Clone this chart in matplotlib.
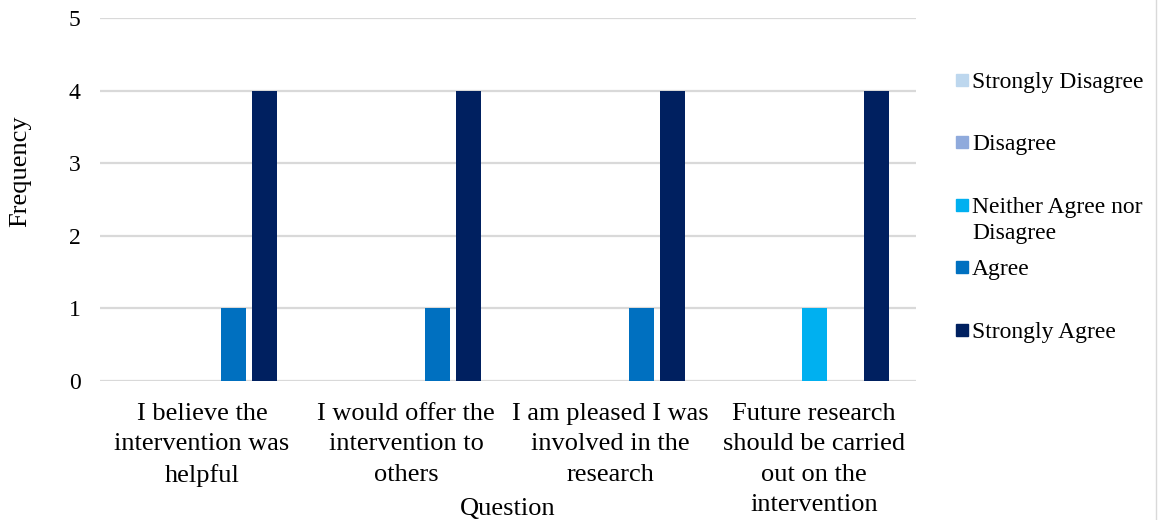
import matplotlib.pyplot as plt
from matplotlib.patches import Rectangle
import numpy as np

plt.rcParams['font.family'] = ['Liberation Serif', 'DejaVu Serif']

questions = ['I believe the\nintervention was\nhelpful',
             'I would offer the\nintervention to\nothers',
             'I am pleased I was\ninvolved in the\nresearch',
             'Future research\nshould be carried\nout on the\nintervention']
responses = ['Strongly Disagree', 'Disagree', 'Neither Agree nor\nDisagree',
             'Agree', 'Strongly Agree']
strongly_disagree = [0, 0, 0, 0]
disagree = [0, 0, 0, 0]
neither = [0, 0, 0, 1]
agree = [1, 1, 1, 0]
strongly_agree = [4, 4, 4, 4]
colors = ['#BDD7EE', '#8FAADC', '#00B0F0', '#0070C0', '#002060']

series = [strongly_disagree, disagree, neither, agree, strongly_agree]

fig = plt.figure(figsize=(11.58, 5.2), dpi=100)
ax = fig.add_axes([0.0864, 0.2673, 0.7047, 0.6981])

x = np.arange(len(questions))
step = 0.152
width = 0.122
for i, vals in enumerate(series):
    ax.bar(x + (i - 2) * step, vals, width, color=colors[i], zorder=3)

ax.set_xlim(-0.5, len(questions) - 0.5)
ax.set_ylim(0, 5)
ax.set_yticks(range(6))
ax.yaxis.grid(True, color='#d9d9d9', linewidth=1.6, zorder=0)
for s in ax.spines.values():
    s.set_visible(False)
ax.tick_params(axis='both', length=0)
ax.tick_params(axis='y', labelsize=17, pad=14)
ax.set_xticks(x)
ax.set_xticklabels(questions, fontsize=19, linespacing=1.48)
ax.tick_params(axis='x', pad=16)

fig.text(508 / 1158, 1 - 509 / 520, 'Question', fontsize=19, ha='center', va='center')
fig.text(20 / 1158, 1 - 171 / 520, 'Frequency', fontsize=19, ha='center', va='center',
         rotation=90)

# legend drawn by hand so the wrapped entry keeps its square on the first line
leg_y = [80, 142, 205, 267, 330]
for name, c, yp in zip(responses, colors, leg_y):
    fy = 1 - yp / 520
    fig.patches.append(Rectangle((956 / 1158, fy - 6 / 520), 12 / 1158, 12 / 520,
                                 transform=fig.transFigure, color=c))
    fig.text(972 / 1158, fy + 8 / 520, name, fontsize=17, ha='left', va='top',
             linespacing=1.3)

fig.add_artist(plt.Line2D([1156 / 1158, 1156 / 1158], [0, 1], color='#d9d9d9',
                          linewidth=1, transform=fig.transFigure))

fig.savefig('out.png', dpi=100)
